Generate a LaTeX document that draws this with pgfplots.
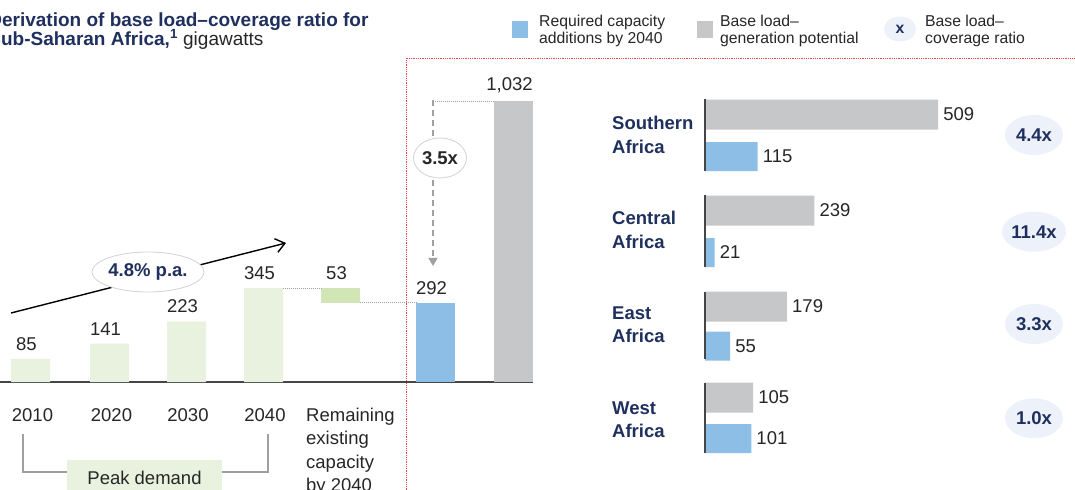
\documentclass[border=0pt]{standalone}
\usepackage{fontspec}
\setmainfont{Liberation Sans}
\usepackage{pgfplots}
\pgfplotsset{compat=1.18}
\usetikzlibrary{arrows.meta,shapes.geometric}

\definecolor{navy}{RGB}{31,48,94}
\definecolor{txt}{RGB}{38,38,38}
\definecolor{pgreen}{RGB}{233,242,223}
\definecolor{pgreen2}{RGB}{210,230,181}
\definecolor{pblue}{RGB}{141,190,230}
\definecolor{pgray}{RGB}{198,199,201}
\definecolor{axgray}{RGB}{70,70,70}
\definecolor{bubble}{RGB}{237,241,249}
\definecolor{redl}{RGB}{232,66,74}
\definecolor{conn}{RGB}{160,160,160}

\newcommand\fs{\fontsize{18.5bp}{22bp}\selectfont}
\newcommand\ts{\fontsize{19bp}{22bp}\selectfont}
\newcommand\ls{\fontsize{15.75bp}{18bp}\selectfont}

\begin{document}
\begin{tikzpicture}[x=1bp,y=-1bp, font=\fs, text=txt]
\useasboundingbox (0,0) rectangle (1075,490);

% title
\node[anchor=base west, inner sep=0pt, text=navy, font=\ts\bfseries] at (-11.8,27) {Derivation of base load–coverage ratio for};
\node[anchor=base west, inner sep=0pt, font=\ts] at (-11.8,46) {\textcolor{navy}{\bfseries Sub-Saharan Africa,\textsuperscript{1}} gigawatts};

% legend
\fill[pblue] (512,21) rectangle (528,38);
\node[anchor=base west, inner sep=0pt, font=\ls] at (539,26.3) {Required capacity};
\node[anchor=base west, inner sep=0pt, font=\ls] at (539,43.9) {additions by 2040};
\fill[pgray] (697,21) rectangle (713,38);
\node[anchor=base west, inner sep=0pt, font=\ls] at (720,26.3) {Base load–};
\node[anchor=base west, inner sep=0pt, font=\ls] at (720,43.9) {generation potential};
\node[ellipse, fill=bubble, minimum width=32bp, minimum height=25bp, inner sep=0pt, text=navy, font=\ls\bfseries] at (900,29) {x};
\node[anchor=base west, inner sep=0pt, font=\ls] at (925,26.3) {Base load–};
\node[anchor=base west, inner sep=0pt, font=\ls] at (925,43.9) {coverage ratio};

% red separators
\draw[redl, densely dotted, line width=0.8bp] (406.5,492) -- (406.5,58) -- (1077,58);

% left chart
\begin{axis}[at={(0bp,-382bp)}, anchor=south west, x=1bp, y=0.272bp,
  xmin=0, xmax=533, ymin=0, ymax=1100,
  axis x line*=bottom, axis y line=none,
  x axis line style={-, draw=axgray, line width=1.2bp},
  xtick={32.5,111.5,188,265}, xticklabels={2010,2020,2030,2040},
  major tick length=0pt,
  xticklabel style={anchor=base, inner sep=0pt, yshift=-39.6bp, font=\fs, text=txt},
  clip=false,
  every node near coord/.style={anchor=south, inner sep=0pt, yshift=8bp, xshift=-4bp, font=\fs, text=txt}]
\addplot[ybar, bar width=39, bar shift=0pt, fill=pgreen, draw=none, nodes near coords, point meta=explicit symbolic]
  coordinates {(30.5,85)[85] (109.5,141)[141] (186.5,223)[223] (263.5,345)[345]};
\addplot[fill=pgreen2, draw=none] coordinates {(321,292) (360,292) (360,345) (321,345)} -- cycle;
\addplot[only marks, mark=none, nodes near coords, point meta=explicit symbolic] coordinates {(340.5,345)[53]};
\addplot[ybar, bar width=39, bar shift=0pt, fill=pblue, draw=none, nodes near coords, point meta=explicit symbolic]
  coordinates {(435.5,292)[292]};
\addplot[ybar, bar width=39, bar shift=0pt, fill=pgray, draw=none, nodes near coords, point meta=explicit symbolic]
  coordinates {(513.5,1032)[{1,032}]};
\draw[conn, densely dotted, line width=1bp] (axis cs:283,345) -- (axis cs:321,345);
\draw[conn, densely dotted, line width=1bp] (axis cs:360,292) -- (axis cs:416,292);
\draw[conn, densely dotted, line width=1bp] (axis cs:433,1032) -- (axis cs:494,1032);
\end{axis}

% 3.5x arrow
\draw[conn, dash pattern=on 6bp off 4bp, line width=1.3bp, -{Triangle[length=8bp,width=9bp]}] (433,100) -- (433,266);
\node[ellipse, draw=gray!35, line width=0.8bp, fill=white, minimum width=53bp, minimum height=40bp, inner sep=0pt, font=\fs\bfseries] at (440,158) {3.5x};

% growth arrow
\draw[black, line width=1.4bp, -{Straight Barb[length=9bp,width=14bp]}] (11,313) -- (286,243);
\node[ellipse, draw=gray!35, line width=0.8bp, fill=white, minimum width=102bp, minimum height=40bp, inner sep=0pt, text=navy, font=\fs\bfseries] at (148,272) {4.8\% p.a.};

% remaining label
\node[anchor=base west, inner sep=0pt] at (306,421.6) {Remaining};
\node[anchor=base west, inner sep=0pt] at (306,444.9) {existing};
\node[anchor=base west, inner sep=0pt] at (306,468.2) {capacity};
\node[anchor=base west, inner sep=0pt] at (306,491.5) {by 2040};

% peak demand bracket
\draw[gray!75, line width=1.2bp] (23,434) -- (23,472) -- (67,472);
\draw[gray!75, line width=1.2bp] (222,472) -- (268,472) -- (268,434);
\fill[pgreen] (67,460) rectangle (222,495);
\node[anchor=base, inner sep=0pt] at (144.5,484.6) {Peak demand};

% right chart
\begin{axis}[at={(705bp,-90bp)}, anchor=north west, x=0.458bp, y=1bp, y dir=reverse,
  xmin=0, xmax=560, ymin=90, ymax=460, hide axis, clip=false,
  every node near coord/.style={anchor=west, inner sep=0pt, xshift=5bp, font=\fs, text=txt}]
\addplot[xbar, bar width=30, bar shift=0pt, fill=pgray, draw=none, nodes near coords, point meta=explicit symbolic]
  coordinates {(509,114.5)[509] (239,210.5)[239] (179,306.5)[179] (105,397.5)[105]};
\addplot[xbar, bar width=29, bar shift=0pt, fill=pblue, draw=none, nodes near coords, point meta=explicit symbolic]
  coordinates {(115,156.5)[115] (21,252.5)[21] (55,346)[55] (101,438.5)[101]};
\draw[axgray, line width=1.5bp] (axis cs:0,99) -- (axis cs:0,171);
\draw[axgray, line width=1.5bp] (axis cs:0,195) -- (axis cs:0,267);
\draw[axgray, line width=1.5bp] (axis cs:0,292) -- (axis cs:0,359);
\draw[axgray, line width=1.5bp] (axis cs:0,383) -- (axis cs:0,453);
\end{axis}

% region labels
\begin{scope}[every node/.style={anchor=base west, inner sep=0pt, text=navy, font=\fs\bfseries}]
\node at (612,129.9) {Southern};
\node at (612,153.9) {Africa};
\node at (612,224.9) {Central};
\node at (612,248.3) {Africa};
\node at (612,319.9) {East};
\node at (612,342.6) {Africa};
\node at (612,414.3) {West};
\node at (612,437.3) {Africa};
\end{scope}

% ratio bubbles
\begin{scope}[every node/.style={ellipse, fill=bubble, minimum width=58bp, minimum height=40bp, inner sep=0pt, text=navy, font=\fs\bfseries}]
\node at (1034,135) {4.4x};
\node at (1034,231.7) {11.4x};
\node at (1034,324) {3.3x};
\node at (1034,418.3) {1.0x};
\end{scope}
\end{tikzpicture}
\end{document}
